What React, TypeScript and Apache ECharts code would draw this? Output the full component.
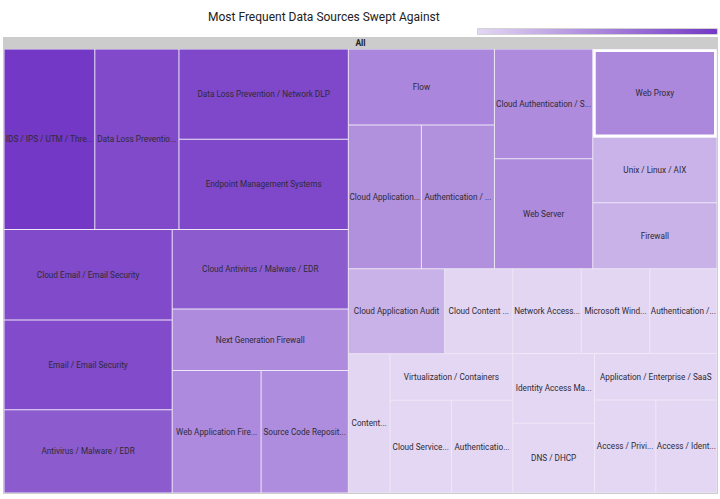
import React, { useEffect, useRef } from 'react';
import * as echarts from 'echarts';

const TITLE = 'Most Frequent Data Sources Swept Against';
const ROOT_NAME = 'All';
const LIGHT = '#e3d7f3';
const DARK = '#7338c5';
const GAP = '#efe8f7';
const HIGHLIGHTED = 'Web Proxy';

// ---- data (relative frequency, read from tile areas) ----
const blockANames = ['IDS / IPS / UTM / Threat Detection', 'Data Loss Prevention / Endpoint DLP', 'Data Loss Prevention / Network DLP', 'Endpoint Management Systems'];
const blockAValues = [164, 152, 153, 153];

const blockB1Names = ['Cloud Email / Email Security', 'Email / Email Security', 'Antivirus / Malware / EDR'];
const blockB1Values = [152, 151, 140];

const blockB2Names = ['Cloud Antivirus / Malware / EDR', 'Next Generation Firewall', 'Web Application Firewall', 'Source Code Repository'];
const blockB2Values = [140, 108, 109, 107];

const blockC1Names = ['Flow', 'Cloud Application Security', 'Authentication / SSO'];
const blockC1Values = [111, 105, 105];

const blockC2Names = ['Cloud Authentication / SSO', 'Web Server'];
const blockC2Values = [108, 108];

const blockC3Names = ['Web Proxy', 'Unix / Linux / AIX', 'Firewall'];
const blockC3Values = [110, 81, 82];

const blockD1LNames = ['Cloud Application Audit', 'Cloud Content Management'];
const blockD1LValues = [82, 58];

const blockDLNames = ['Content Management', 'Virtualization / Containers', 'Cloud Services / IaaS', 'Authentication / Directory'];
const blockDLValues = [58, 57, 57, 57];

const blockD1RNames = ['Network Access Control', 'Microsoft Windows', 'Authentication / MFA'];
const blockD1RValues = [58, 58, 57];

const blockIAMNames = ['Identity Access Management', 'DNS / DHCP'];
const blockIAMValues = [57, 57];

const blockDRNames = ['Application / Enterprise / SaaS', 'Access / Privileged Access', 'Access / Identity Governance'];
const blockDRValues = [57, 57, 57];

const allValues = [
  ...blockAValues, ...blockB1Values, ...blockB2Values, ...blockC1Values, ...blockC2Values,
  ...blockC3Values, ...blockD1LValues, ...blockDLValues, ...blockD1RValues, ...blockIAMValues, ...blockDRValues,
];
const V_MIN = Math.min(...allValues);
const V_MAX = Math.max(...allValues);

type TNode = { name: string; value?: number; children?: TNode[]; itemStyle?: any };

const leaves = (names: string[], values: number[]): TNode[] =>
  names.map((name, i) => {
    const n: TNode = { name, value: values[i] };
    if (name === HIGHLIGHTED) n.itemStyle = { borderColor: '#ffffff', borderWidth: 2.5 };
    return n;
  });
const group = (...children: TNode[]): TNode => ({ name: '', children });

function buildTree(): TNode[] {
  const A = group(...leaves(blockANames, blockAValues));
  const B = group(group(...leaves(blockB1Names, blockB1Values)), group(...leaves(blockB2Names, blockB2Values)));
  const C = group(
    group(...leaves(blockC1Names, blockC1Values)),
    group(...leaves(blockC2Names, blockC2Values)),
    group(...leaves(blockC3Names, blockC3Values)),
  );
  const DL = group(group(...leaves(blockD1LNames, blockD1LValues)), ...leaves(blockDLNames, blockDLValues));
  const DR = group(
    group(...leaves(blockD1RNames, blockD1RValues)),
    group(...leaves(blockIAMNames, blockIAMValues)),
    ...leaves(blockDRNames, blockDRValues),
  );
  return [{ name: ROOT_NAME, children: [group(A, B), group(C, group(DL, DR))] }];
}

export default function App() {
  const ref = useRef<HTMLDivElement>(null);
  useEffect(() => {
    if (!ref.current) return;
    const chart = echarts.init(ref.current, null, { renderer: 'svg' });
    const font = 'Roboto';
    chart.setOption({
      animation: false,
      backgroundColor: '#ffffff',
      textStyle: { fontFamily: font },
      title: {
        text: TITLE,
        left: 208,
        top: 11,
        padding: 0,
        textStyle: { fontFamily: font, fontSize: 12, fontWeight: 'normal', color: '#222222' },
      },
      visualMap: {
        type: 'continuous',
        seriesIndex: [],
        min: V_MIN,
        max: V_MAX,
        orient: 'horizontal',
        left: 477.5,
        top: 28.5,
        padding: 0,
        itemWidth: 6,
        itemHeight: 240,
        calculable: false,
        inRange: { color: [LIGHT, DARK] },
        controller: { inRange: { color: [LIGHT, DARK], symbolSize: [6, 6] } },
        text: null,
      },
      graphic: [
        {
          type: 'rect',
          x: 477.5,
          y: 28.5,
          z: 100,
          shape: { x: 0, y: 0, width: 240, height: 6 },
          style: { fill: 'none', stroke: '#d2d2d2', lineWidth: 1 },
          silent: true,
        },
      ],
      series: [
        {
          type: 'treemap',
          left: 3,
          top: 37,
          width: 715,
          height: 457,
          roam: false,
          nodeClick: false,
          sort: false,
          squareRatio: 1e-6,
          breadcrumb: { show: false },
          color: [LIGHT, DARK],
          colorMappingBy: 'value',
          visualMin: V_MIN,
          visualMax: V_MAX,
          itemStyle: { borderWidth: 0, gapWidth: 1, borderColor: GAP },
          label: {
            show: true,
            position: 'inside',
            formatter: '{b}',
            color: '#2e2a36',
            fontFamily: font,
            fontSize: 8.2,
            padding: 0,
            overflow: 'truncate',
            ellipsis: '...',
          },
          upperLabel: { show: false },
          levels: [
            {
              color: [LIGHT, DARK],
              colorMappingBy: 'value',
              visualMin: V_MIN,
              visualMax: V_MAX,
              itemStyle: { borderWidth: 0, gapWidth: 0, borderColor: 'transparent' },
            },
            {
              itemStyle: { borderColor: '#cccccc', borderWidth: 1, gapWidth: 0 },
              upperLabel: {
                show: true,
                height: 12,
                position: 'inside',
                color: '#222222',
                fontFamily: font,
                fontSize: 8.5,
                fontWeight: 'bold',
                padding: 0,
              },
            },
            {
              itemStyle: { borderColor: GAP, borderWidth: 0.5, gapWidth: 1 },
            },
          ],
          data: buildTree(),
        },
      ],
    });
    return () => chart.dispose();
  }, []);
  return <div ref={ref} style={{ position: 'absolute', left: 0, top: 0, width: 720, height: 499 }} />;
}
